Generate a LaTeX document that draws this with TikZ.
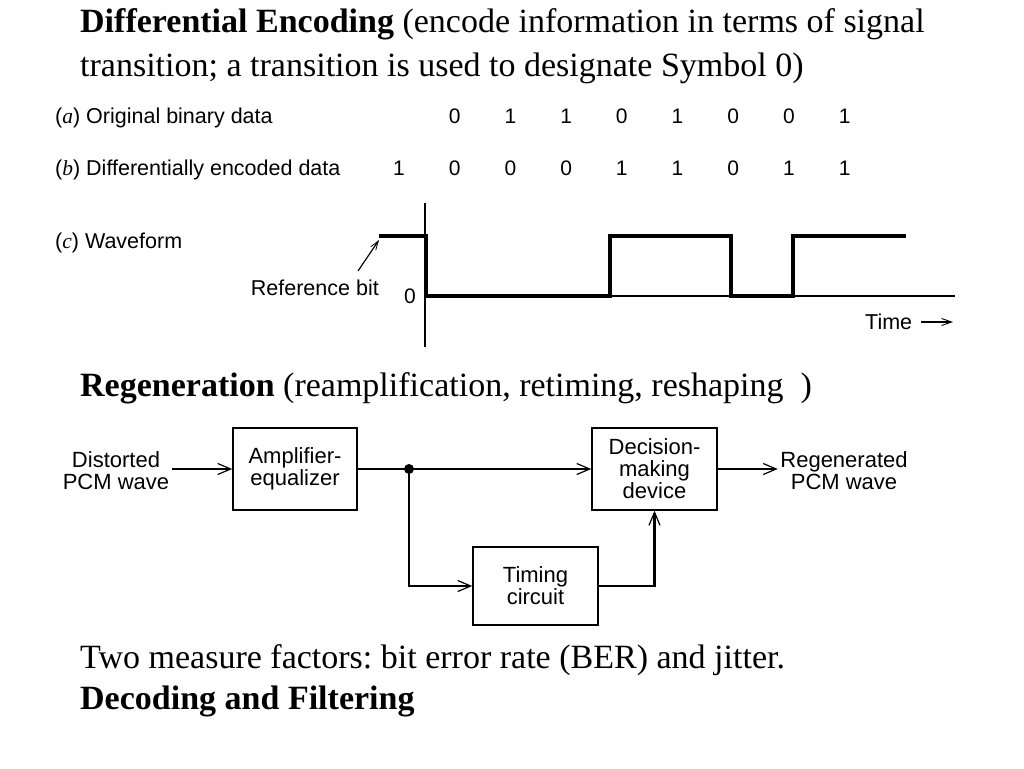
\documentclass[tikz,border=0pt]{standalone}
\usepackage{fontspec}
\setmainfont{Liberation Serif}
\newfontfamily\lab{Liberation Sans}
\usetikzlibrary{arrows.meta}
\frenchspacing
\tikzset{
  title/.style={anchor=base west, inner sep=0pt, font=\fontsize{34}{43}\selectfont},
  lbl/.style={anchor=base west, inner sep=0pt, font=\lab\fontsize{21.5}{24}\selectfont},
  bit/.style={anchor=base, inner sep=0pt, font=\lab\fontsize{21}{24}\selectfont},
  box/.style={draw, line width=1.5pt, align=center, inner sep=0pt, font=\lab\fontsize{22}{22}\selectfont},
  txt/.style={align=center, inner sep=0pt, font=\lab\fontsize{22}{22}\selectfont},
  wire/.style={line width=2.6pt},
  wave/.style={line width=4pt, line join=miter},
  axis/.style={line width=1.4pt},
  barb/.style={-{Straight Barb[length=13pt,width=11pt,line width=1.2pt]}}
}
\begin{document}
\begin{tikzpicture}[x=1pt,y=-1pt]
\useasboundingbox (0,0) rectangle (1024,768);
% headings
\node[title] (t1) at (80,33) {\textbf{Differential Encoding} (encode information in terms of signal};
\node[title] (t2) at (80,76) {transition; a transition is used to designate Symbol 0)};
% row labels
\node[lbl] (la) at (55,123) {({\rmfamily\itshape a}) Original binary data};
\node[lbl] (lb) at (55,175) {({\rmfamily\itshape b}) Differentially encoded data};
\node[lbl] (lc) at (55,248) {({\rmfamily\itshape c}) Waveform};
% bits
\foreach \v [count=\i] in {0,1,1,0,1,0,0,1}
  \node[bit] (a\i) at ({399+55.7*\i},123) {\v};
\foreach \v [count=\i from 0] in {1,0,0,0,1,1,0,1,1}
  \node[bit] (b\i) at ({399+55.7*\i},175) {\v};
% waveform axes
\coordinate (ax1) at (425,203);
\coordinate (ax2) at (425,347);
\coordinate (bl1) at (425,296);
\coordinate (bl2) at (955,296);
\draw[axis] (ax1) -- (ax2);
\draw[axis] (bl1) -- (bl2);
\draw[wave] (379,236) -- (426,236) -- (426,296) -- (610,296) -- (610,236) -- (731,236) -- (731,296) -- (793,296) -- (793,236) -- (906,236);
% reference bit
\node[lbl, anchor=base east] (rb) at (379,295) {Reference bit};
\coordinate (rbs) at (358,271);
\coordinate (rbe) at (379,240);
\draw[line width=1.2pt, -{Straight Barb[length=9pt,width=6pt,line width=0.8pt]}] (rbs) -- (rbe);
\node[bit] (zero) at (410,303) {0};
\node[lbl] (time) at (865,329) {Time};
\coordinate (tm1) at (921,322);
\coordinate (tm2) at (953,322);
\draw[line width=1.2pt, -{Straight Barb[length=10pt,width=7pt,line width=0.9pt]}] (tm1) -- (tm2);
% regeneration heading
\node[title] (t3) at (80,396) {\textbf{Regeneration} (reamplification, retiming, reshaping\ \ )};
% block diagram
\node[box, minimum width=124pt, minimum height=82pt] (amp) at (295,469) {Amplifier-\\equalizer};
\node[box, minimum width=125pt, minimum height=82pt] (dec) at (654.5,469) {Decision-\\making\\device};
\node[box, minimum width=125pt, minimum height=78pt] (tim) at (535.5,586) {Timing\\circuit};
\node[txt] (in) at (116,471) {Distorted\\PCM wave};
\node[txt] (out) at (844,471) {Regenerated\\PCM wave};
\coordinate (j) at (409,469);
\coordinate (ins) at (172,469);
\draw[wire, barb] (ins) -- (amp.west);
\draw[wire] (amp.east) -- (j);
\draw[wire, barb] (j) -- (dec.west);
\fill (j) circle (5pt);
\draw[wire, barb] (j) |- (tim.west);
\draw[wire, barb] (tim.east) -| (dec.south);
\draw[wire, barb] (dec.east) -- ++(60,0) coordinate (oe);
% bottom
\node[title] (t4) at (80,668) {Two measure factors: bit error rate (BER) and jitter.};
\node[title] (t5) at (80,709) {\textbf{Decoding and Filtering}};
\end{tikzpicture}
\end{document}
